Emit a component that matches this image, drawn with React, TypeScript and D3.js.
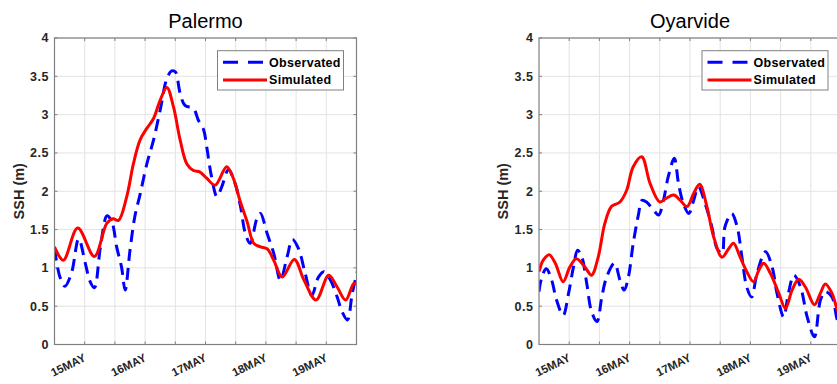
import React from 'react';
import * as d3 from 'd3';

// time in days of May, values in metres
const dayLabels = ['15MAY', '16MAY', '17MAY', '18MAY', '19MAY'];
const dayTicks = [15, 16, 17, 18, 19];
const gridDays = [15, 15.5, 16, 16.5, 17, 17.5, 18, 18.5, 19];
const yTicks = [0, 0.5, 1, 1.5, 2, 2.5, 3, 3.5, 4];

const palermoSimT = [14.5, 14.646, 14.884, 15.16, 15.366, 15.47, 15.56, 15.696, 15.807, 15.917, 16.028, 16.14, 16.25, 16.36, 16.47, 16.58, 16.69, 16.8, 16.91, 17.02, 17.16, 17.35, 17.46, 17.57, 17.69, 17.8, 17.91, 18.02, 18.13, 18.27, 18.47, 18.63, 18.83, 19.04, 19.18, 19.32, 19.46, 19.52];
const palermoSimV = [1.275, 1.1, 1.52, 1.15, 1.58, 1.64, 1.62, 1.93, 2.36, 2.67, 2.82, 2.95, 3.19, 3.355, 3.1, 2.67, 2.36, 2.27, 2.25, 2.17, 2.08, 2.32, 2.17, 1.88, 1.6, 1.32, 1.275, 1.25, 1.1, 0.88, 1.11, 0.84, 0.58, 0.905, 0.75, 0.58, 0.8, 0.775];

const palermoObsT = [14.5, 14.59, 14.67, 14.78, 14.9, 15.01, 15.09, 15.16, 15.26, 15.37, 15.45, 15.53, 15.61, 15.67, 15.75, 15.83, 15.92, 16.03, 16.14, 16.25, 16.36, 16.44, 16.5, 16.58, 16.66, 16.8, 16.88, 16.97, 17.02, 17.1, 17.19, 17.27, 17.38, 17.49, 17.58, 17.66, 17.74, 17.85, 17.91, 18.02, 18.13, 18.24, 18.35, 18.44, 18.54, 18.65, 18.76, 18.87, 18.96, 19.07, 19.18, 19.26, 19.35, 19.43, 19.52];
const palermoObsV = [1.25, 0.88, 0.76, 0.93, 1.38, 1.06, 0.82, 0.74, 1.27, 1.68, 1.6, 1.27, 1.01, 0.71, 1.23, 1.67, 1.97, 2.36, 2.67, 3.06, 3.47, 3.57, 3.56, 3.28, 3.12, 3.08, 2.93, 2.8, 2.58, 2.19, 1.93, 2.06, 2.28, 2.1, 1.8, 1.45, 1.32, 1.64, 1.71, 1.45, 1.19, 0.84, 1.14, 1.37, 1.25, 0.93, 0.64, 0.88, 0.95, 0.84, 0.62, 0.43, 0.32, 0.67, 0.97];

const oyarvideSimT = [14.5, 14.57, 14.67, 14.77, 14.9, 15.01, 15.12, 15.26, 15.37, 15.48, 15.59, 15.7, 15.84, 15.95, 16.06, 16.2, 16.34, 16.5, 16.61, 16.73, 16.84, 16.95, 17.06, 17.16, 17.28, 17.39, 17.53, 17.64, 17.72, 17.83, 17.94, 18.05, 18.14, 18.22, 18.33, 18.47, 18.58, 18.69, 18.8, 18.91, 19.06, 19.16, 19.24, 19.35, 19.44, 19.52];
const oyarvideSimV = [0.95, 1.1, 1.17, 1.06, 0.82, 1.01, 1.12, 1.01, 0.905, 1.14, 1.58, 1.8, 1.86, 2.01, 2.32, 2.45, 2.1, 1.86, 1.91, 1.95, 1.88, 1.8, 1.97, 2.09, 1.8, 1.41, 1.14, 1.25, 1.32, 1.14, 0.95, 0.82, 0.97, 1.06, 0.93, 0.67, 0.47, 0.71, 0.85, 0.75, 0.52, 0.67, 0.79, 0.67, 0.45, 0.32];

const oyarvideObsT = [14.5, 14.54, 14.62, 14.71, 14.79, 14.9, 14.99, 15.07, 15.14, 15.21, 15.29, 15.37, 15.46, 15.54, 15.62, 15.75, 15.84, 15.91, 15.98, 16.06, 16.15, 16.2, 16.28, 16.4, 16.48, 16.56, 16.64, 16.74, 16.81, 16.89, 16.98, 17.06, 17.14, 17.25, 17.36, 17.45, 17.53, 17.58, 17.69, 17.78, 17.86, 17.94, 18.02, 18.11, 18.25, 18.36, 18.44, 18.55, 18.63, 18.72, 18.83, 18.94, 19.06, 19.16, 19.24, 19.35, 19.44, 19.52];
const oyarvideObsV = [0.69, 0.86, 0.99, 0.84, 0.58, 0.38, 0.67, 1.01, 1.23, 1.14, 0.8, 0.43, 0.3, 0.62, 0.88, 1.06, 0.84, 0.71, 0.88, 1.32, 1.71, 1.88, 1.86, 1.75, 1.69, 1.88, 2.19, 2.43, 2.1, 1.84, 1.71, 1.88, 2.06, 1.84, 1.54, 1.25, 1.19, 1.54, 1.71, 1.54, 1.14, 0.75, 0.62, 0.93, 1.21, 1.01, 0.67, 0.36, 0.67, 0.905, 0.75, 0.36, 0.1, 0.58, 0.69, 0.62, 0.32, 0.2];

const FONT = '"Liberation Sans", Arial, Helvetica, sans-serif';
const TOP = 38;
const BOTTOM = 344.5;
const PW = 302;

type PanelProps = {
  title: string;
  left: number;
  obsT: number[];
  obsV: number[];
  simT: number[];
  simV: number[];
  id: string;
};

const Panel: React.FC<PanelProps> = ({ title, left, obsT, obsV, simT, simV, id }) => {
  const x = d3.scaleLinear().domain([14.5, 19.5]).range([left, left + PW]);
  const y = d3.scaleLinear().domain([0, 4]).range([BOTTOM, TOP]);
  const line = d3
    .line<[number, number]>()
    .x((d) => x(d[0]))
    .y((d) => y(d[1]))
    .curve(d3.curveCatmullRom.alpha(0.5));
  const obs = obsT.map((t, i) => [t, obsV[i]] as [number, number]);
  const sim = simT.map((t, i) => [t, simV[i]] as [number, number]);
  const right = left + PW;
  const lgX = left + 163;

  return (
    <g>
      <defs>
        <clipPath id={id}>
          <rect x={left} y={TOP} width={PW} height={BOTTOM - TOP} />
        </clipPath>
      </defs>
      {/* grid */}
      {gridDays.map((d) => (
        <line key={'gx' + d} x1={x(d)} x2={x(d)} y1={TOP} y2={BOTTOM} stroke="#e3e3e3" strokeWidth={1} />
      ))}
      {yTicks.map((v) => (
        <line key={'gy' + v} x1={left} x2={right} y1={y(v)} y2={y(v)} stroke="#e3e3e3" strokeWidth={1} />
      ))}
      {/* inner ticks */}
      {gridDays.map((d) => (
        <g key={'tx' + d}>
          <line x1={x(d)} x2={x(d)} y1={BOTTOM} y2={BOTTOM - 3} stroke="#808080" />
          <line x1={x(d)} x2={x(d)} y1={TOP} y2={TOP + 3} stroke="#808080" />
        </g>
      ))}
      {yTicks.map((v) => (
        <g key={'ty' + v}>
          <line x1={left} x2={left + 3} y1={y(v)} y2={y(v)} stroke="#808080" />
          <line x1={right} x2={right - 3} y1={y(v)} y2={y(v)} stroke="#808080" />
        </g>
      ))}
      {/* series */}
      <g clipPath={`url(#${id})`}>
        <path d={line(obs) || ''} fill="none" stroke="#0000ff" strokeWidth={3} strokeDasharray="12,7" />
        <path d={line(sim) || ''} fill="none" stroke="#ff0000" strokeWidth={3} />
      </g>
      {/* box */}
      <rect x={left} y={TOP} width={PW} height={BOTTOM - TOP} fill="none" stroke="#808080" strokeWidth={1.2} />
      {/* y tick labels */}
      {yTicks.map((v) => (
        <text key={'ly' + v} x={left - 5.5} y={y(v)} dy="0.35em" textAnchor="end" fontFamily={FONT} fontWeight="bold" fontSize={12.5} fill="#262626" letterSpacing={0.5}>
          {String(v)}
        </text>
      ))}
      {/* x tick labels */}
      {dayTicks.map((d, i) => (
        <text key={'lx' + d} transform={`translate(${x(d) + 2},${BOTTOM + 16}) rotate(-26)`} textAnchor="end" fontFamily={FONT} fontWeight="bold" fontSize={11.5} fill="#262626">
          {dayLabels[i]}
        </text>
      ))}
      {/* y label */}
      <text transform={`translate(${left - 31},${(TOP + BOTTOM) / 2}) rotate(-90)`} textAnchor="middle" fontFamily={FONT} fontWeight="bold" fontSize={14.5} fill="#262626">
        SSH (m)
      </text>
      {/* title */}
      <text x={left + PW / 2} y={28.3} textAnchor="middle" fontFamily={FONT} fontSize={20} fill="#000">
        {title}
      </text>
      {/* legend */}
      <rect x={lgX} y={50.7} width={126} height={39.3} fill="#fff" stroke="#808080" strokeWidth={1} />
      <line x1={lgX + 5.5} x2={lgX + 49.5} y1={62.3} y2={62.3} stroke="#0000ff" strokeWidth={3} strokeDasharray="15,10" />
      <line x1={lgX + 5.5} x2={lgX + 49.5} y1={80} y2={80} stroke="#ff0000" strokeWidth={3} />
      <text x={lgX + 51.5} y={62.3} dy="0.35em" fontFamily={FONT} fontWeight="bold" fontSize={12.5} fill="#000" letterSpacing={0.3}>
        Observated
      </text>
      <text x={lgX + 51.5} y={80} dy="0.35em" fontFamily={FONT} fontWeight="bold" fontSize={12.5} fill="#000" letterSpacing={0.3}>
        Simulated
      </text>
    </g>
  );
};

export default function App() {
  return (
    <svg width={837} height={384} style={{ position: 'absolute', left: 0, top: 0, background: '#fff' }}>
      <rect width={837} height={384} fill="#fff" />
      <Panel title="Palermo" left={54.5} obsT={palermoObsT} obsV={palermoObsV} simT={palermoSimT} simV={palermoSimV} id="clipA" />
      <Panel title="Oyarvide" left={539} obsT={oyarvideObsT} obsV={oyarvideObsV} simT={oyarvideSimT} simV={oyarvideSimV} id="clipB" />
    </svg>
  );
}
